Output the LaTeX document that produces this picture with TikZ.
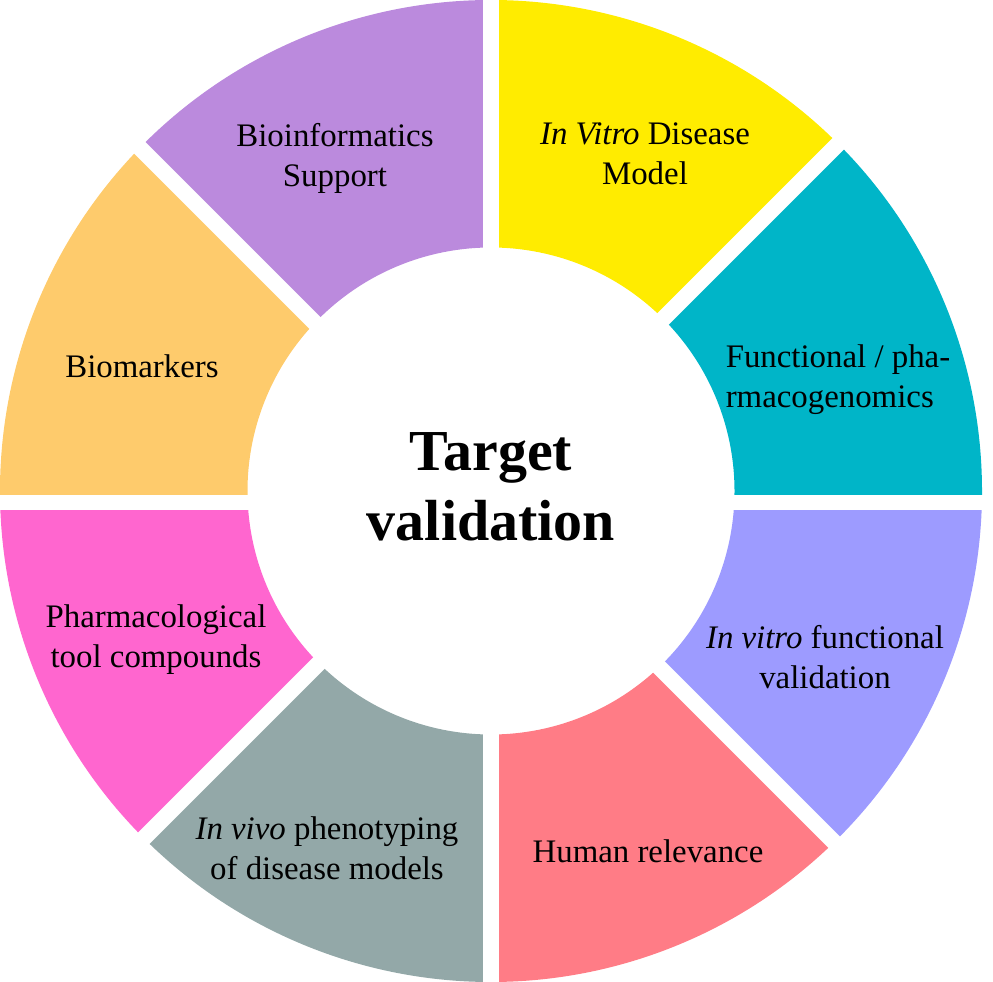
\documentclass[tikz,border=0pt]{standalone}
\usepackage{fontspec}
\setmainfont{Liberation Serif}
\usepackage{xcolor}
\usetikzlibrary{calc}
\definecolor{segYellow}{HTML}{FFEC00}
\definecolor{segTeal}{HTML}{00B5C8}
\definecolor{segLavender}{HTML}{9D9BFF}
\definecolor{segSalmon}{HTML}{FF7C86}
\definecolor{segGrey}{HTML}{93A8A8}
\definecolor{segPink}{HTML}{FF66CF}
\definecolor{segOrange}{HTML}{FECB6C}
\definecolor{segPurple}{HTML}{BB8ADD}
\newcommand{\rIn}{243.5}
\newcommand{\rOut}{491}
\newcommand{\ringpart}[3]{%
  \fill[#3] (#1:\rIn) arc[start angle=#1, end angle=#2, radius=\rIn]
    -- (#2:\rOut) arc[start angle=#2, end angle=#1, radius=\rOut] -- cycle;}
\tikzset{
	seglabel/.style={align=center, font=\fontsize{18.7}{22.8}\selectfont, inner sep=0pt},
	centretitle/.style={align=center, font=\fontsize{33}{40}\selectfont\bfseries, inner sep=0pt},
	gapline/.style={white, line width=0.32cm}
}

\begin{document}
\begin{tikzpicture}[scale=0.02]
        \useasboundingbox (-491,-491) rectangle (502,491);
        \begin{scope}
            \clip (-500,-4) rectangle (510,500);
            \ringpart{90}{135}{segPurple}
            \ringpart{135}{190}{segOrange}
            \ringpart{45}{90}{segYellow}
            \ringpart{-10}{45}{segTeal}
        \end{scope}
        \begin{scope}
            \clip (-500,-20) rectangle (510,-500);
            \ringpart{170}{225}{segPink}
            \ringpart{225}{270}{segGrey}
            \ringpart{270}{315}{segSalmon}
            \ringpart{315}{370}{segLavender}
        \end{scope}
        \coordinate (gap_top) at (90:500);
        \coordinate (gap_bottom) at (-90:500);
        \coordinate (gap_ne) at (45:500);
        \coordinate (gap_sw) at (225:500);
        \coordinate (gap_nw) at ($(135:500)+(-4,-4)$);
        \coordinate (gap_se) at ($(-45:500)+(-4,-4)$);
        \draw[gapline] (gap_top) -- (gap_bottom);
        \draw[gapline] (gap_ne) -- (gap_sw);
        \draw[gapline] (gap_nw) -- (gap_se);
        \node[seglabel] (invitro_model) at (154,337) {\textit{In Vitro} Disease\\Model};
        \node[seglabel, align=left] (functional) at (347,111) {Functional / pha-\\rmacogenomics};
        \node[seglabel] (invitro_validation) at (334,-166) {\textit{In vitro} functional\\validation};
        \node[seglabel] (human) at (157,-360) {Human relevance};
        \node[seglabel] (invivo) at (-164,-357) {\textit{In vivo} phenotyping\\of disease models};
        \node[seglabel] (pharmaco) at (-335,-149) {Pharmacological\\tool compounds};
        \node[seglabel] (biomarkers) at (-349,125) {Biomarkers};
        \node[seglabel] (bioinfo) at (-156,333) {Bioinformatics\\Support};
        \node[centretitle] (target) at (0,4) {Target\\validation};
    \end{tikzpicture}
\end{document}
